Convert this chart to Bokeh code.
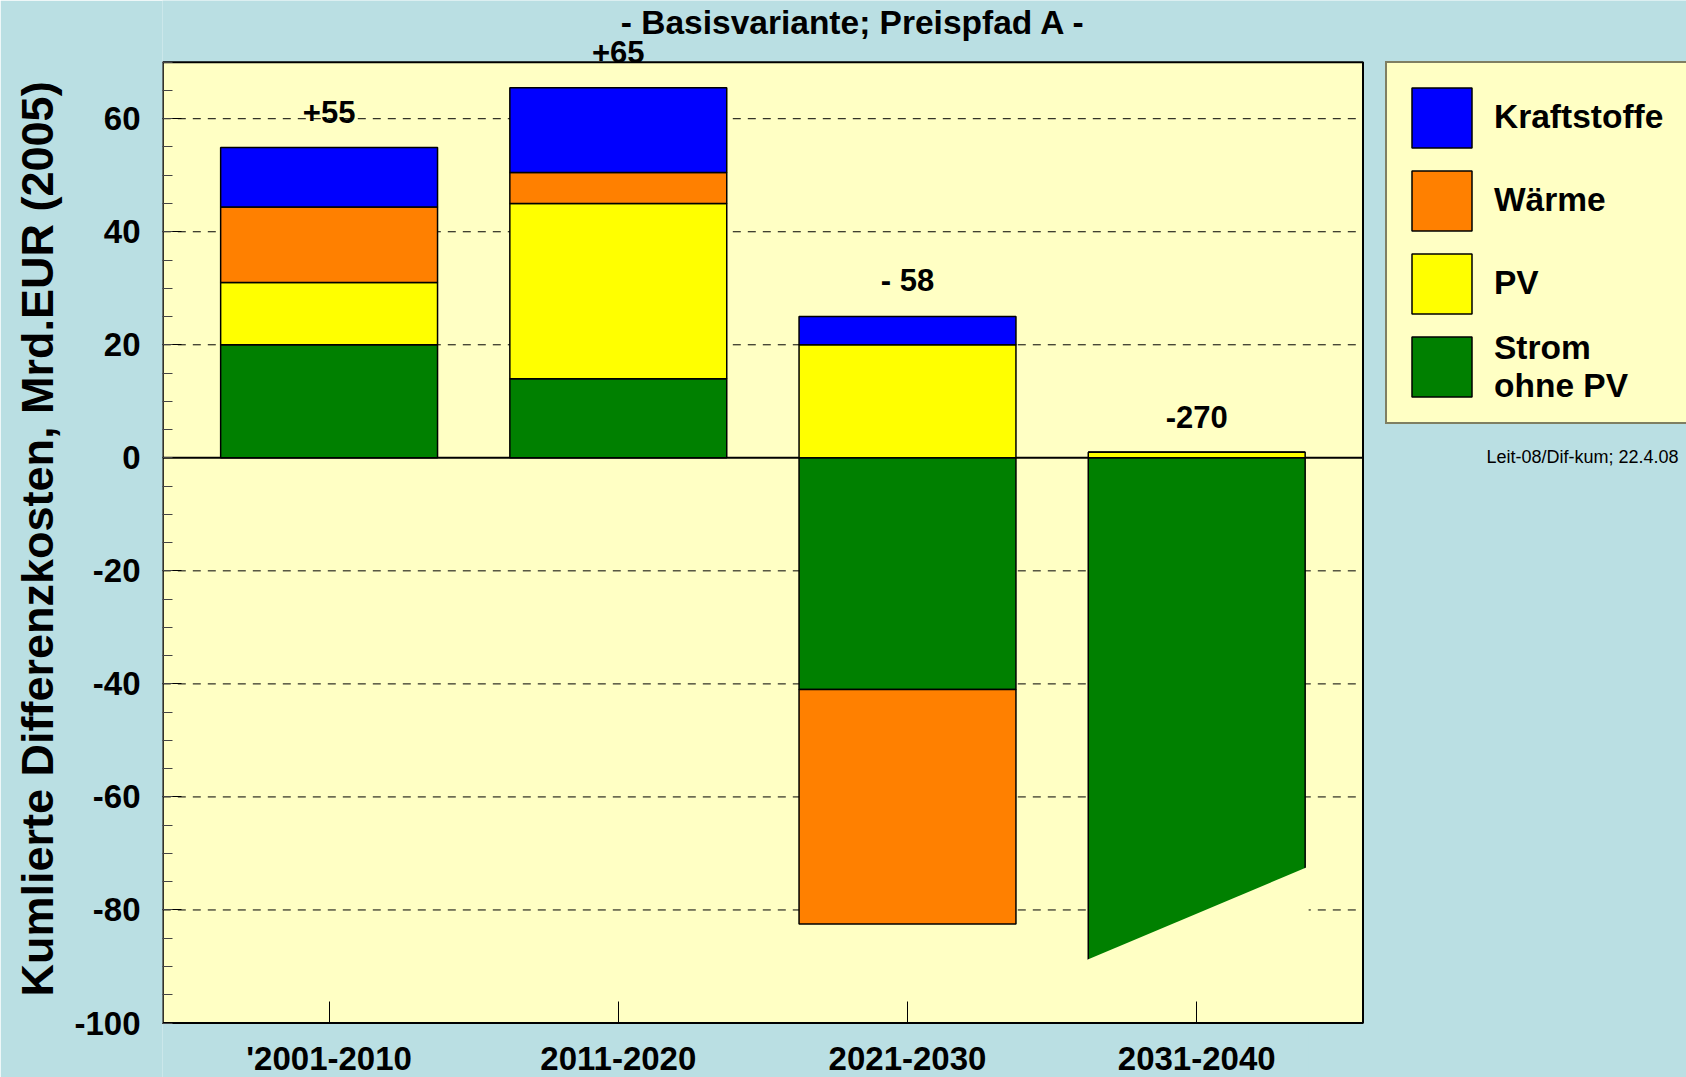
import numpy as np
from bokeh.plotting import figure
from bokeh.models import (ColumnDataSource, FixedTicker, Label, LabelSet,
                          Legend, LegendItem)
from bokeh.core.properties import value
from bokeh.embed import file_html
from bokeh.resources import INLINE

# ---------------- data ----------------
periods = ["'2001-2010", "2011-2020", "2021-2030", "2031-2040"]
strom_ohne_pv = [20.0, 14.0, -41.0, -271.0]
pv = [11.0, 31.0, 20.0, 1.0]
waerme = [13.4, 5.5, -41.5, 0.0]
kraftstoffe = [10.5, 15.0, 5.0, 0.0]
total_labels = ["+55", "+65", "- 58", "-270"]
series_names = ["Strom\nohne PV", "PV", "Wärme", "Kraftstoffe"]
series_colors = ["#008000", "#FFFF00", "#FF8000", "#0000FF"]
y_major_ticks = [-100, -80, -60, -40, -20, 0, 20, 40, 60]
y_minor_ticks = list(range(-100, 71, 5))
grid_ticks = [-80, -60, -40, -20, 20, 40, 60]

# ---------------- style / layout ----------------
FONT = "Liberation Sans"
OUTER_BG = "#BADFE3"
PLOT_BG = "#FFFFC4"
BAR_W = 0.75
X_LO, X_HI = 0.425, 4.575          # plot-area x extent
Y_LO, Y_HI = -100.0, 70.0          # plot-area y extent
BREAK_Y = (-89.0, -72.3)           # axis-break cut of the off-scale last bar

W, H = 1686, 1077
LEFT = 162
# pixel targets of the plot area inside the canvas
PA_L, PA_R, PA_T, PA_B = 162.3, 1362.5, 61.7, 1022.5
sx = (PA_R - PA_L) / (X_HI - X_LO)
sy = (PA_B - PA_T) / (Y_HI - Y_LO)
frame_bottom = H
x_start = X_LO - (PA_L - LEFT) / sx
x_end = X_LO + (W - PA_L) / sx
y_end = Y_HI + PA_T / sy
y_start = Y_LO - (frame_bottom - PA_B) / sy

p = figure(width=W, height=H, x_range=(x_start, x_end), y_range=(y_start, y_end),
           min_border=0, min_border_left=LEFT, min_border_bottom=0,
           min_border_top=0, min_border_right=0,
           output_backend="svg", toolbar_location=None)
p.background_fill_color = OUTER_BG
p.border_fill_color = OUTER_BG
p.outline_line_color = None
p.grid.visible = False

# plot area
p.quad(left=X_LO, right=X_HI, bottom=Y_LO, top=Y_HI, fill_color=PLOT_BG, line_color=None)

# dashed grid lines and zero line
p.segment(x0=[X_LO] * len(grid_ticks), x1=[X_HI] * len(grid_ticks), y0=grid_ticks, y1=grid_ticks,
          line_color="black", line_width=1, line_dash="8 7")
p.segment(x0=[X_LO], x1=[X_HI], y0=[0], y1=[0], line_color="black", line_width=2)

# stacked bars (positive and negative parts stacked separately)
x = np.arange(1, len(periods) + 1)
pos = np.zeros(len(periods))
neg = np.zeros(len(periods))
renderers = []
for vals, color in zip([strom_ohne_pv, pv, waerme, kraftstoffe], series_colors):
    v = np.array(vals, dtype=float)
    bottom = np.where(v >= 0, pos, neg)
    top = bottom + v
    pos = np.where(v >= 0, top, pos)
    neg = np.where(v < 0, top, neg)
    src = ColumnDataSource(dict(x=x, bottom=bottom, top=top))
    r = p.vbar(x="x", bottom="bottom", top="top", width=BAR_W, source=src,
               fill_color=color, line_color="black", line_width=1.5)
    renderers.append(r)

# axis break on the off-scale bar (bar continues below the plot area)
bx = x[-1]
hw = BAR_W / 2 + 0.012
p.patch(x=[bx - hw, bx + hw, bx + hw, bx - hw],
        y=[BREAK_Y[0], BREAK_Y[1], Y_LO, Y_LO],
        fill_color=PLOT_BG, line_color=None)
p.patch(x=[bx - hw, bx + hw, bx + hw, bx - hw],
        y=[Y_LO, Y_LO, y_start - 5, y_start - 5],
        fill_color=OUTER_BG, line_color=None)

# plot-area border
p.quad(left=X_LO, right=X_HI, bottom=Y_LO, top=Y_HI, fill_color=None,
       line_color="black", line_width=2)

# y axis
ya = p.yaxis[0]
ya.ticker = FixedTicker(ticks=y_major_ticks, minor_ticks=y_minor_ticks)
ya.major_label_overrides = {t: str(t) for t in y_major_ticks}
ya.axis_label = "Kumlierte Differenzkosten, Mrd.EUR (2005)"
ya.axis_label_text_font = FONT
ya.axis_label_text_font_style = "bold"
ya.axis_label_text_font_size = "45px"
ya.axis_label_text_color = "black"
ya.axis_label_standoff = 8
ya.major_label_text_font = FONT
ya.major_label_text_font_style = "bold"
ya.major_label_text_font_size = "33px"
ya.major_label_text_color = "black"
ya.major_label_standoff = 22
ya.major_tick_in = 19
ya.major_tick_out = 0
ya.minor_tick_in = 10
ya.minor_tick_out = 0
ya.major_tick_line_color = "black"
ya.minor_tick_line_color = "#444444"
ya.axis_line_color = None

# x axis, drawn at the bottom edge of the plot area
xa = p.xaxis[0]
xa.fixed_location = Y_LO
xa.ticker = FixedTicker(ticks=list(x))
xa.major_label_overrides = {int(i): lab for i, lab in zip(x, periods)}
xa.major_label_text_font = FONT
xa.major_label_text_font_style = "bold"
xa.major_label_text_font_size = "33px"
xa.major_label_text_color = "black"
xa.major_label_standoff = 17
xa.major_tick_in = 22
xa.major_tick_out = 0
xa.minor_tick_line_color = None
xa.major_tick_line_color = "black"
xa.axis_line_color = None

# totals above the bars
lab_src = ColumnDataSource(dict(x=x, y=pos + 6.3, text=total_labels))
p.add_layout(LabelSet(x="x", y="y", text="text", source=lab_src,
                      text_align="center", text_baseline="middle",
                      text_font=value(FONT), text_font_style="bold",
                      text_font_size="31px", text_color="black"))

# title and footnote
p.add_layout(Label(x=X_LO + (853 - PA_L) / sx, y=Y_HI + (PA_T - 21.5) / sy,
                   text="- Basisvariante; Preispfad A -",
                   text_align="center", text_baseline="middle",
                   text_font=FONT, text_font_style="bold",
                   text_font_size="33.5px", text_color="black"))
p.add_layout(Label(x=X_LO + (1678 - PA_L) / sx, y=0.1, text="Leit-08/Dif-kum; 22.4.08",
                   text_align="right", text_baseline="middle",
                   text_font=FONT, text_font_size="18px", text_color="black"))

# legend right of the plot area
items = [LegendItem(label=series_names[i], renderers=[renderers[i]]) for i in [3, 2, 1, 0]]
legend = Legend(items=items, location=(1385 - LEFT, frame_bottom - 62.7 - 361),
                margin=0, padding=17,
                spacing=8, glyph_width=75, glyph_height=75, label_standoff=15,
                label_height=60, label_width=200,
                label_text_font=FONT, label_text_font_style="bold",
                label_text_font_size="33.5px", label_text_line_height=0.8,
                label_text_color="black",
                border_line_color="black", border_line_width=2,
                background_fill_color=PLOT_BG, background_fill_alpha=1.0)
p.add_layout(legend)

open("out.html", "w").write(file_html(p, INLINE))
